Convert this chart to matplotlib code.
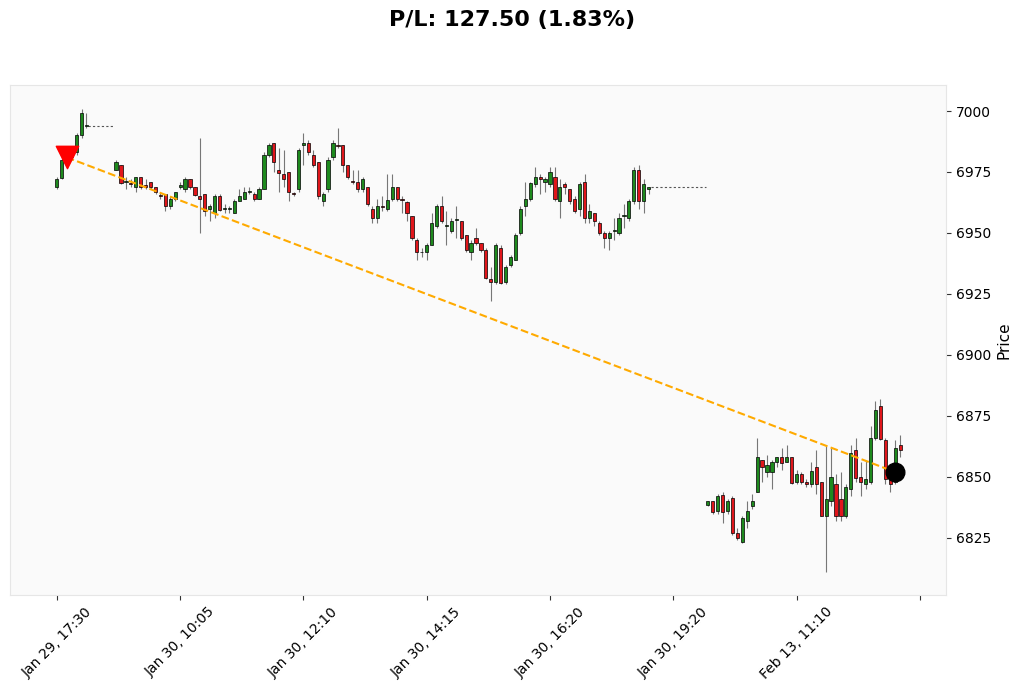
import numpy as np
import matplotlib
matplotlib.use("Agg")
import matplotlib.pyplot as plt

N = np.nan
opens = [6969,6972.5,6980,6981,6983,6990,6994] + [N]*5 + [
6976,6978,6971,6970.5,6969,6973,6969.5,6971,6969,6965.5,6966,6961,6964,6969,6968,6972,6969,6965,6966,6960,6958,
6965,6960,6960,6958,6963,6964,6967,6966,6964,6968,6982,6987,6976,6974,6975,6966.5,6968,6986,6987,6982,6979,6963,6968,6981,6986,6986,6978,6971.5,6971,6968,6969,6960,6956,6961,
6960,6964,6969,6964,6962.7,6957,6947,6942,6942,6945,6953,6961,6953,6951,6955.5,6955,6949,6942,6948,6946,6943,6931,6930,6944,6930,6937,6939,6950,6961,
6964,6970,6973,6971,6970,6973,6963,6970,6968,6964,6960,6971,6956,6958,6954,6950,6948,6951,6950,6957,6956,6963,6976,6963,6968] + [N]*11 + [
6838.5,6840,6836,6842.5,6836,6841.5,6827,6823.5,6832,6838,6844,6857,6852,6852,6856,6858,6856,6858,6848,6851,6848,6847,6854,
6848,6834,6840,6847,6841,6834,6845,6861,6850,6847,6848,6866,6879,6865,6849.5,6848,6863]
closes = [6972,6980,6982,6983,6990,6999,6994] + [N]*5 + [
6979,6970.5,6971,6970,6973,6969,6969,6969,6967,6965,6961,6964,6967,6969.5,6972,6969,6965.5,6964,6959,6961,6965,
6959.5,6960,6960,6963,6965,6967,6967,6964,6968,6982,6986,6979,6974.5,6972,6967,6966,6984,6987,6983,6978,6965,6966,6980,6987,6985.5,6978,6973,6971,6968,6972,6962,6956,6961,6960.5,
6963.5,6969,6964,6963.5,6958,6948,6942,6942,6945,6954,6961,6955,6953,6955,6955.5,6948,6943,6946,6946,6943,6931.5,6930,6945,6929.5,6936,6940,6949,6960,6964,
6970.5,6973,6972,6972,6975,6964,6969,6969,6963,6959,6970,6956,6959,6955,6950,6948,6950,6951,6956,6957,6963,6976,6963,6970,6969] + [N]*11 + [
6840,6835.6,6842,6835.5,6840,6827,6825,6833,6836,6840,6858,6854,6855,6856,6858,6855.6,6858,6847.5,6851,6848,6847,6852.6,6847,
6834,6841,6850,6834,6834,6846,6860,6849.6,6848,6849,6866,6877.5,6865.7,6849,6847,6862,6861]
highs = [6973,6981,6983,6984,6991,7001,6999] + [N]*5 + [
6980,6978,6973,6972,6973,6973,6972,6971,6969,6967,6966,6965,6967,6971,6973,6972,6969,6989,6966,6962,6966,
6966,6962,6961,6964,6968,6969,6969,6967,6969,6983,6987,6987,6985,6984,6975,6967,6985,6991,6988,6984,6979,6967,6981,6988,6993,6986,6978,6976,6976,6973,6969,6961,6964,6965,
6974,6974,6969,6965,6963,6957,6948,6944,6946,6958,6962,6965,6959,6956,6961,6955,6949,6947,6952,6946,6944,6936,6946,6945,6937,6941,6950,6961,6971,
6971,6977,6974,6973,6977,6977,6972,6971,6968,6965,6971,6974,6962,6958,6955,6951,6951,6956,6958,6962,6964,6977,6978,6972,6969] + [N]*11 + [
6840,6840,6843,6844,6841,6842,6829,6834,6840,6843,6866,6857,6859,6857,6858,6862,6863,6858,6853,6852,6849,6856,6861,
6848,6863,6862,6851,6852,6847,6863,6866,6856,6857,6871,6881,6882,6866,6855,6865,6867]
lows = [6968,6972,6979,6980,6982,6989,6993] + [N]*5 + [
6976,6970,6968,6969,6967,6968,6968,6968,6966,6964,6959,6960,6963,6968,6967,6968,6965,6950,6957,6955,6956,
6959,6958,6958,6958,6963,6964,6966,6963,6964,6968,6981,6975,6967,6969,6963,6965,6967,6978,6982,6977,6964,6961,6967,6980,6985,6975,6972,6970,6967,6967,6961,6954,6954,6959,
6959,6963,6963,6958,6955,6947,6939,6940,6939,6945,6952,6954,6945,6950,6948,6947,6942,6939,6945,6942,6931,6922,6929,6929,6929,6936,6939,6949,6957,
6963,6969,6966,6967,6969,6963,6956,6966,6962,6958,6957,6954,6954,6953,6949,6944,6943,6947,6949,6952,6955,6962,6960,6958,6966] + [N]*11 + [
6838,6835,6835,6831,6835,6826,6824,6823,6829,6837,6844,6848,6850,6845,6854,6853,6856,6847,6847,6847,6846,6846,6843,
6834,6811,6838,6832,6832,6833,6842,6848,6842,6845,6847,6865,6865,6847,6844,6847,6858]
tick_pos = [0, 25, 50, 75, 100, 125, 150, 175]
tick_labels = ["Jan 29, 17:30", "Jan 30, 10:05", "Jan 30, 12:10", "Jan 30, 14:15",
               "Jan 30, 16:20", "Jan 30, 19:20", "Feb 13, 11:10", ""]
entry_idx, entry_price = 2, 6981
exit_idx, exit_price = 170, 6852
title = "P/L: 127.50 (1.83%)"

o, c, h, l = map(np.array, (opens, closes, highs, lows))
x = np.arange(len(o))

fig = plt.figure(figsize=(10.24, 6.98), dpi=100)
ax = fig.add_axes([0.0098, 0.1476, 0.914, 0.7304])
ax.set_facecolor("#fafafa")
for s in ax.spines.values():
    s.set_color("#e6e6e6")

valid = ~np.isnan(o)
up = valid & (c >= o)
dn = valid & (c < o)
ax.vlines(x[valid], l[valid], h[valid], color="#777777", linewidth=0.8, zorder=2)
w = 0.65
for m, col in ((up, "#1e8a1e"), (dn, "#e0161b")):
    bot = np.minimum(o[m], c[m])
    ht = np.maximum(np.abs(c[m] - o[m]), 0.3)
    ax.bar(x[m], ht, w, bottom=bot, color=col, edgecolor="black", linewidth=0.5, zorder=3)

# dotted lines across gaps
i = 0
while i < len(o):
    if np.isnan(o[i]):
        j = i
        while j < len(o) and np.isnan(o[j]):
            j += 1
        ax.hlines(c[i - 1], i - 1 + 0.4, j - 0.4, colors="#555555", linestyles=(0, (2, 2)), linewidth=0.8)
        i = j
    else:
        i += 1

ax.plot([entry_idx, exit_idx], [entry_price, exit_price], color="#ffaa00", linestyle="--", linewidth=1.5, zorder=4)
ax.scatter([entry_idx], [entry_price], marker="v", s=260, color="red", zorder=5)
ax.scatter([exit_idx], [exit_price], marker="o", s=180, color="black", zorder=5)

ax.set_xlim(-9.5, 180.3)
ax.set_ylim(6801.6, 7010.6)
ax.yaxis.tick_right()
ax.yaxis.set_label_position("right")
ax.set_yticks([6825, 6850, 6875, 6900, 6925, 6950, 6975, 7000])
ax.set_ylabel("Price", fontsize=11)
ax.set_xticks(tick_pos)
ax.set_xticklabels(tick_labels, rotation=45, ha="center", fontsize=10)
ax.tick_params(labelsize=10, color="#333333")
fig.suptitle(title, fontsize=16, fontweight="bold", y=0.985)
fig.savefig("out.png", dpi=100)
